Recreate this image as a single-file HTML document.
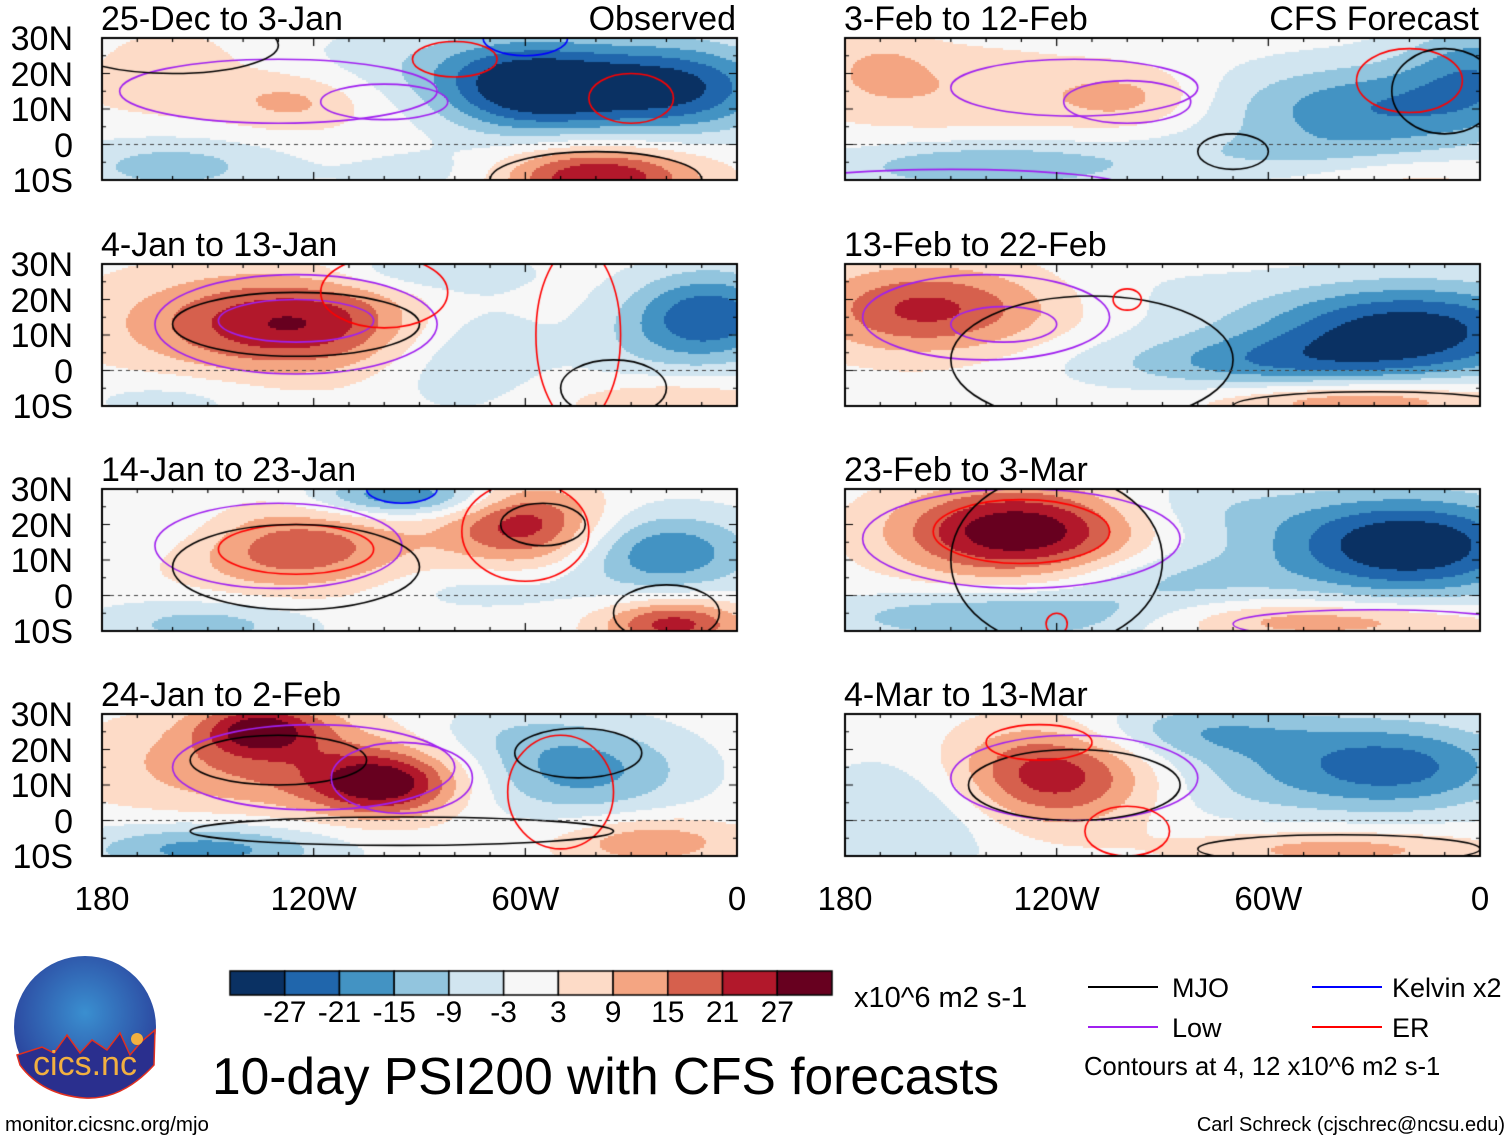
<!DOCTYPE html>
<html><head><meta charset="utf-8">
<style>
body{margin:0;width:1510px;height:1142px;background:#fff;position:relative;overflow:hidden;font-family:"Liberation Sans",sans-serif;}
.t{position:absolute;white-space:nowrap;color:#000;line-height:1;}
canvas{position:absolute;}
</style></head>
<body>
<canvas id="cv" width="1510" height="1142" style="left:0;top:0"></canvas>
<div id="labels"></div>

<svg style="position:absolute;left:12px;top:955px" width="146" height="146">
<defs><radialGradient id="lg" cx="50%" cy="40%" r="60%"><stop offset="0" stop-color="#3a8fd0"/><stop offset="1" stop-color="#2a3f9a"/></radialGradient></defs>
<circle cx="73" cy="72" r="71" fill="url(#lg)"/>
<path d="M5 100 L30 92 L42 98 L55 80 L68 98 L80 85 L95 95 L108 78 L118 100 L130 86 L143 75 L142 110 Q110 145 73 143 Q30 140 8 110 Z" fill="#2a2f8e" stroke="#e03020" stroke-width="1.5"/>
<circle cx="125" cy="84" r="6" fill="#f2b040"/>
<text x="73" y="120" text-anchor="middle" font-family="Liberation Sans" font-size="34" fill="#f2b040">cics.nc</text>
</svg>

<div class="t" style="left:5px;top:1115px;font-size:20.5px">monitor.cicsnc.org/mjo</div>
<div class="t" style="right:5px;top:1115px;font-size:20px">Carl Schreck (cjschrec@ncsu.edu)</div>
<div class="t" style="left:212px;top:1051px;font-size:51.5px">10-day PSI200 with CFS forecasts</div>
<div class="t" style="left:854px;top:984px;font-size:29px">x10^6 m2 s-1</div>

<svg style="position:absolute;left:1080px;top:965px" width="430" height="120">
<line x1="8" y1="22" x2="78" y2="22" stroke="#000" stroke-width="2"/>
<text x="92" y="32" font-size="27" font-family="Liberation Sans">MJO</text>
<line x1="8" y1="62" x2="78" y2="62" stroke="#a020f0" stroke-width="2"/>
<text x="92" y="72" font-size="27" font-family="Liberation Sans">Low</text>
<line x1="232" y1="22" x2="302" y2="22" stroke="#0000ff" stroke-width="2"/>
<text x="312" y="32" font-size="27" font-family="Liberation Sans">Kelvin x2</text>
<line x1="232" y1="62" x2="302" y2="62" stroke="#ff0000" stroke-width="2"/>
<text x="312" y="72" font-size="27" font-family="Liberation Sans">ER</text>
<text x="4" y="110" font-size="25.6" font-family="Liberation Sans">Contours at 4, 12 x10^6 m2 s-1</text>
</svg>

<script>
const levels=[-27,-21,-15,-9,-3,3,9,15,21,27];
const colors=["#0a3163","#2066ac","#4393c3","#92c5de","#d1e5f0","#f7f7f7","#fddbc7","#f4a582","#d6604d","#b2182b","#67001f"];
const titles=["25-Dec to 3-Jan","3-Feb to 12-Feb","4-Jan to 13-Jan","13-Feb to 22-Feb","14-Jan to 23-Jan","23-Feb to 3-Mar","24-Jan to 2-Feb","4-Mar to 13-Mar"];
const latTicks=["30N","20N","10N","0","10S"];
const lonTicks=["180","120W","60W","0"];
// blobs: [lonW, lat, amplitude, sigmaLon, sigmaLat]
const blobs0=[[140,16,7,35,9],[125,12,7,12,5],[160,25,5,10,5],[60,16,-30,18,9],[20,16,-30,22,9],[100,22,-8,30,8],[160,-6,-12,22,6],[40,-9,28,20,6],[85,-8,-6,20,5]];
const blobs1=[[150,15,8,30,9],[100,13,10,15,6],[30,10,-20,30,9],[0,22,-15,15,10],[140,-6,-15,30,5],[60,-3,-6,30,5],[20,-9,6,20,4],[170,22,7,10,6]];
const blobs2=[[125,13,20,28,9],[130,14,8,40,12],[8,15,-26,16,9],[80,8,-12,18,12],[30,5,-4,15,10],[90,28,-10,20,4],[20,-9,10,20,5],[160,-8,-6,20,5]];
const blobs3=[[160,17,18,22,9],[130,18,8,30,8],[20,12,-30,30,9],[60,2,-16,35,6],[35,-8,16,30,4],[100,20,-6,25,8]];
const blobs4=[[125,13,19,25,9],[60,20,24,15,8],[20,12,-20,18,8],[95,28,-22,18,4],[18,-8,24,14,5],[150,-8,-12,22,5],[160,20,-6,15,8],[75,2,-6,25,5]];
const blobs5=[[130,18,34,24,9],[20,14,-34,26,10],[135,-6,-16,35,5],[45,-7,14,35,4],[80,24,-8,25,8],[90,5,-10,25,6]];
const blobs6=[[135,26,24,12,5],[100,10,26,14,6],[130,16,16,35,10],[45,14,-18,22,9],[150,-8,-18,25,5],[25,-6,14,18,5],[70,25,-6,20,6]];
const blobs7=[[122,13,26,20,10],[25,15,-24,25,9],[80,25,-14,25,6],[40,-8,12,30,4],[160,2,-10,20,12],[70,10,-6,20,8]];
const allBlobs=[blobs0,blobs1,blobs2,blobs3,blobs4,blobs5,blobs6,blobs7];
// contours: [lonW, lat, radiusLon, radiusLat, type]
const cont0=[[130,15,45,9,"low"],[100,12,18,5,"low"],[30,13,12,7,"er"],[40,-10,30,8,"mjo"],[160,28,30,8,"mjo"],[60,30,12,5,"kelvin"],[80,24,12,5,"er"]];
const cont1=[[115,16,35,8,"low"],[100,12,18,6,"low"],[20,18,15,9,"er"],[10,15,15,12,"mjo"],[70,-2,10,5,"mjo"],[150,-12,50,5,"low"]];
const cont2=[[125,13,40,14,"low"],[125,14,22,6,"low"],[125,13,35,9,"mjo"],[100,22,18,10,"er"],[45,10,12,25,"er"],[35,-5,15,8,"mjo"]];
const cont3=[[140,15,35,12,"low"],[135,13,15,5,"low"],[110,3,40,18,"mjo"],[100,20,4,3,"er"],[30,-10,40,4,"mjo"]];
const cont4=[[130,14,35,12,"low"],[125,13,22,7,"er"],[125,8,35,12,"mjo"],[60,18,18,14,"er"],[55,20,12,6,"mjo"],[95,30,10,4,"kelvin"],[20,-5,15,8,"mjo"]];
const cont5=[[130,16,45,14,"low"],[130,18,25,9,"er"],[120,10,30,24,"mjo"],[120,-8,3,3,"er"],[30,-8,40,4,"low"]];
const cont6=[[120,15,40,12,"low"],[130,17,25,7,"mjo"],[95,12,20,10,"low"],[50,8,15,16,"er"],[45,19,18,7,"mjo"],[95,-3,60,4,"mjo"]];
const cont7=[[115,12,35,12,"low"],[115,10,30,10,"mjo"],[125,22,15,5,"er"],[100,-3,12,7,"er"],[40,-8,40,4,"mjo"]];
const allCont=[cont0,cont1,cont2,cont3,cont4,cont5,cont6,cont7];
const ccol={mjo:"#000",low:"#a020f0",er:"#ff0000",kelvin:"#0000ff"};

const cv=document.getElementById('cv');const ctx=cv.getContext('2d');
const lab=document.getElementById('labels');
const PW=635,PH=142,X0=[102,845],Y0=[38,264,489,714];
function colorFor(v){let i=0;while(i<levels.length&&v>levels[i])i++;return colors[i];}
function addText(txt,x,y,size,name,anchor){
  const d=document.createElement('div');d.className='t';d.textContent=txt;
  d.style.fontSize=size+'px';d.style.top=y+'px';
  if(anchor==='r'){d.style.right=(1510-x)+'px';}else if(anchor==='c'){d.style.left=x+'px';d.style.transform='translateX(-50%)';}else d.style.left=x+'px';
  
  
  lab.appendChild(d);
}
for(let p=0;p<8;p++){
  const col=p%2,row=Math.floor(p/2);const x0=X0[col],y0=Y0[row];
  const sx=lon=>x0+(180-lon)/180*PW, sy=lat=>y0+(30-lat)/40*PH;
  const B=allBlobs[p];const st=2;
  for(let py=0;py<PH;py+=st)for(let px=0;px<PW;px+=st){
    const lon=180-(px+1)/PW*180,lat=30-(py+1)/PH*40;let v=0;
    for(const b of B){const dx=(lon-b[0])/b[3],dy=(lat-b[1])/b[4];v+=b[2]*Math.exp(-(dx*dx+dy*dy)/2);}
    ctx.fillStyle=colorFor(v);ctx.fillRect(x0+px,y0+py,st,st);
  }
  ctx.save();ctx.beginPath();ctx.rect(x0,y0,PW,PH);ctx.clip();
  for(const c of allCont[p]){
    ctx.beginPath();ctx.strokeStyle=ccol[c[4]];ctx.lineWidth=1.6;
    ctx.ellipse(sx(c[0]),sy(c[1]),c[2]/180*PW,c[3]/40*PH,0,0,Math.PI*2);ctx.stroke();
  }
  ctx.restore();
  ctx.setLineDash([4,4]);ctx.strokeStyle="#444";ctx.lineWidth=1.2;ctx.beginPath();ctx.moveTo(x0,sy(0));ctx.lineTo(x0+PW,sy(0));ctx.stroke();ctx.setLineDash([]);
  ctx.strokeStyle="#000";ctx.lineWidth=2;ctx.strokeRect(x0,y0,PW,PH);
  ctx.lineWidth=1.2;
  for(let lon=180;lon>=0;lon-=10){const x=sx(lon);const L=(lon%60===0)?8:4;
    ctx.beginPath();ctx.moveTo(x,y0);ctx.lineTo(x,y0+L);ctx.moveTo(x,y0+PH);ctx.lineTo(x,y0+PH-L);ctx.stroke();}
  for(let lat=30;lat>=-10;lat-=5){const y=sy(lat);const L=(lat%10===0)?8:4;
    ctx.beginPath();ctx.moveTo(x0,y);ctx.lineTo(x0+L,y);ctx.moveTo(x0+PW,y);ctx.lineTo(x0+PW-L,y);ctx.stroke();}
  addText(titles[p],x0-1,y0-36,34,'panel-title-'+(p+1));
  if(p===0)addText("Observed",736,y0-36,34,'observed-label','r');
  if(p===1)addText("CFS Forecast",1479,y0-36,34,'forecast-label','r');
  if(col===0){latTicks.forEach((t,i)=>{addText(t,73,sy(30-10*i)-16,34,'lat-label-'+t+'-row'+(row+1),'r');});}
}
[0,1].forEach(col=>{lonTicks.forEach((t,i)=>{addText(t,X0[col]+i*60/180*PW,882,33,'lon-label-'+t+'-'+col,'c');});});
const cbx=230,cby=971,cbw=602/11,cbh=24;
colors.forEach((c,i)=>{ctx.fillStyle=c;ctx.fillRect(cbx+i*cbw,cby,cbw,cbh);ctx.strokeStyle="#000";ctx.lineWidth=1.5;ctx.strokeRect(cbx+i*cbw,cby,cbw,cbh);});
levels.forEach((l,i)=>addText(String(l),cbx+(i+1)*cbw,998,30,'colorbar-label-'+l,'c'));
</script>
</body></html>
